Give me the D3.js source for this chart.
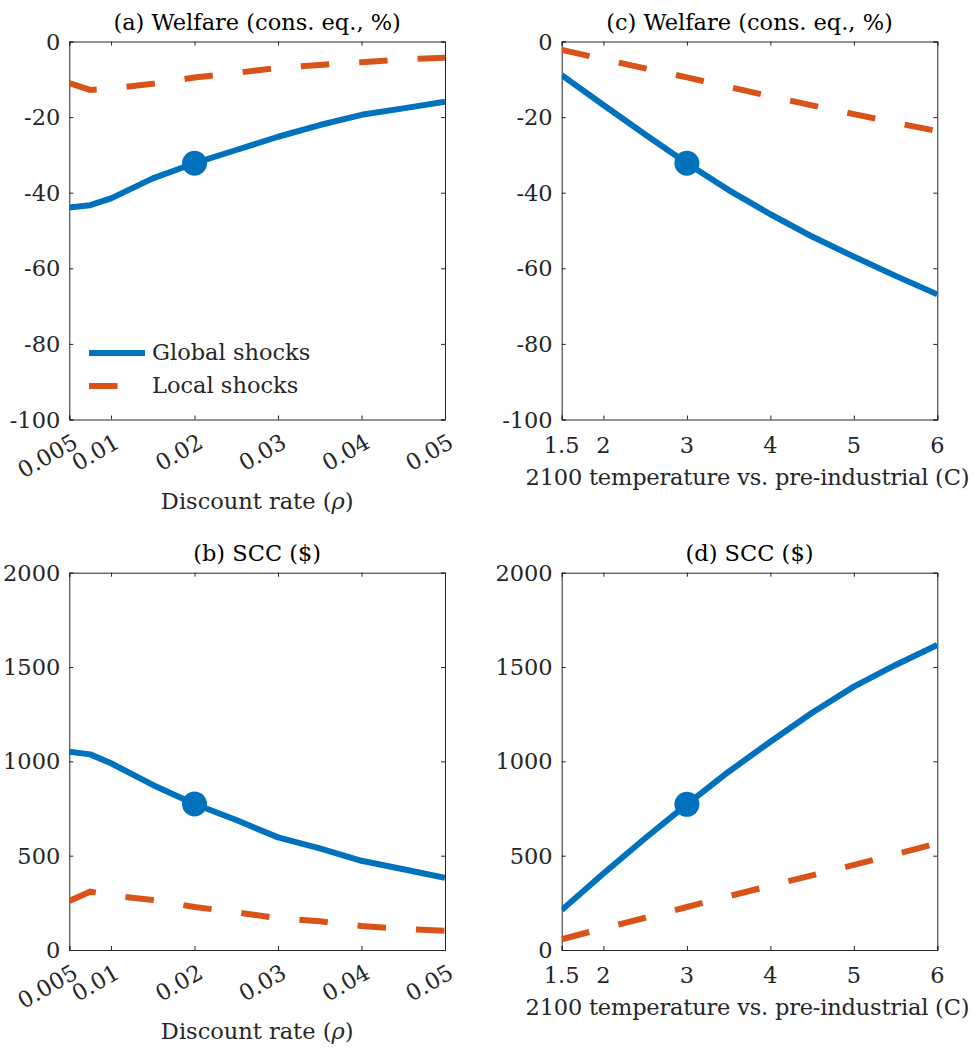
<!DOCTYPE html>
<html>
<head>
<meta charset="utf-8">
<script src="https://cdn.jsdelivr.net/npm/d3@7"></script>
<style>
  html, body { margin: 0; padding: 0; background: #fff; }
  svg { display: block; }
</style>
</head>
<body>
<script>
// ---------------- data ----------------
const rhoGrid = [0.005, 0.0075, 0.01, 0.015, 0.02, 0.025, 0.03, 0.035, 0.04, 0.045, 0.05];
const welfareRhoGlobal = [-43.9, -43.3, -41.5, -36.2, -32.2, -28.7, -25.2, -22.1, -19.4, -17.7, -15.9];
const welfareRhoLocal  = [-11.0, -12.8, -12.4, -11.2, -9.5, -8.3, -7.0, -6.2, -5.5, -4.7, -4.3];
const sccRhoGlobal = [1051, 1037, 990, 875, 774, 689, 597, 539, 473, 428, 383];
const sccRhoLocal  = [260, 309, 290, 265, 228, 200, 168, 152, 127, 111, 102];

const tempGrid = [1.5, 2, 2.5, 3, 3.5, 4, 4.5, 5, 5.5, 6];
const welfareTempGlobal = [-8.9, -16.8, -24.6, -32.2, -39.3, -45.7, -51.6, -56.9, -62.0, -66.9];
const welfareTempLocal  = [-2.2, -4.7, -7.1, -9.5, -12.0, -14.5, -16.9, -19.2, -21.5, -23.7];
const sccTempGlobal = [212, 406, 592, 772, 945, 1104, 1258, 1396, 1511, 1617];
const sccTempLocal  = [57, 115, 171, 228, 285, 341, 396, 451, 508, 566];

const rhoBaseline = 0.02;
const tempBaseline = 3;

const rhoTicks = [0.005, 0.01, 0.02, 0.03, 0.04, 0.05];
const rhoTickLabels = ["0.005", "0.01", "0.02", "0.03", "0.04", "0.05"];
const tempTicks = [1.5, 2, 3, 4, 5, 6];
const tempTickLabels = ["1.5", "2", "3", "4", "5", "6"];
const welfareTicks = [-100, -80, -60, -40, -20, 0];
const sccTicks = [0, 500, 1000, 1500, 2000];

const seriesNames = ["Global shocks", "Local shocks"];
const titles = ["(a) Welfare (cons. eq., %)", "(b) SCC ($)", "(c) Welfare (cons. eq., %)", "(d) SCC ($)"];

// ---------------- layout ----------------
const W = 975, H = 1049;
const BLUE = "#0072BD", ORANGE = "#D95319", AX = "#262626";
const FS = 22.5;
const LW = 6;
const FONT = "'DejaVu Serif', 'Liberation Serif', serif";

const svg = d3.select("body").append("svg").attr("width", W).attr("height", H)
  .attr("font-family", FONT);
svg.append("defs");

function txt(sel) {
  return sel.append("text").attr("font-family", FONT).attr("font-size", FS).attr("fill", AX);
}

const panels = [
  { id: "a", box: [69.3, 445, 41.5, 419.5], x: rhoGrid, g: welfareRhoGlobal, l: welfareRhoLocal,
    xdom: [0.005, 0.05], ydom: [-100, 0], xt: rhoTicks, xtl: rhoTickLabels, yt: welfareTicks,
    mark: rhoBaseline, rot: true, title: titles[0], xlabel: "rho", legend: true },
  { id: "b", box: [69.3, 445, 572.7, 950], x: rhoGrid, g: sccRhoGlobal, l: sccRhoLocal,
    xdom: [0.005, 0.05], ydom: [0, 2000], xt: rhoTicks, xtl: rhoTickLabels, yt: sccTicks,
    mark: rhoBaseline, rot: true, title: titles[1], xlabel: "rho" },
  { id: "c", box: [561.7, 937.3, 41.5, 419.5], x: tempGrid, g: welfareTempGlobal, l: welfareTempLocal,
    xdom: [1.5, 6], ydom: [-100, 0], xt: tempTicks, xtl: tempTickLabels, yt: welfareTicks,
    mark: tempBaseline, rot: false, title: titles[2], xlabel: "temp" },
  { id: "d", box: [561.7, 937.3, 572.7, 950], x: tempGrid, g: sccTempGlobal, l: sccTempLocal,
    xdom: [1.5, 6], ydom: [0, 2000], xt: tempTicks, xtl: tempTickLabels, yt: sccTicks,
    mark: tempBaseline, rot: false, title: titles[3], xlabel: "temp" }
];

panels.forEach(p => {
  const [x0, x1, y0, y1] = p.box;
  const xs = d3.scaleLinear().domain(p.xdom).range([x0, x1]);
  const ys = d3.scaleLinear().domain(p.ydom).range([y1, y0]);
  const g = svg.append("g");

  svg.select("defs").append("clipPath").attr("id", "clip-" + p.id)
    .append("rect").attr("x", x0).attr("y", y0).attr("width", x1 - x0).attr("height", y1 - y0);

  const tl = 4;
  const bottom = d3.axisBottom(xs).tickValues(p.xt).tickSize(-tl).tickFormat("");
  const top = d3.axisTop(xs).tickValues(p.xt).tickSize(-tl).tickFormat("");
  const left = d3.axisLeft(ys).tickValues(p.yt).tickSize(-tl).tickFormat("");
  const right = d3.axisRight(ys).tickValues(p.yt).tickSize(-tl).tickFormat("");
  [[bottom, `translate(0,${y1})`], [top, `translate(0,${y0})`],
   [left, `translate(${x0},0)`], [right, `translate(${x1},0)`]].forEach(([ax, tr]) => {
    const a = g.append("g").attr("transform", tr).call(ax);
    a.select(".domain").attr("stroke", AX).attr("stroke-width", 1);
    a.selectAll(".tick line").attr("stroke", AX).attr("stroke-width", 1);
  });

  // y tick labels
  p.yt.forEach(v => {
    txt(g).attr("x", x0 - 9).attr("y", ys(v)).attr("dy", "0.36em")
      .attr("text-anchor", "end").text(String(v));
  });

  // x tick labels
  p.xt.forEach((v, i) => {
    if (p.rot) {
      txt(g).attr("transform", `translate(${xs(v) + 10},${y1 + 27}) rotate(-30)`)
        .attr("text-anchor", "end").text(p.xtl[i]);
    } else {
      txt(g).attr("x", xs(v)).attr("y", y1 + 33)
        .attr("text-anchor", "middle").text(p.xtl[i]);
    }
  });

  // x label
  const cx = (x0 + x1) / 2;
  if (p.xlabel === "rho") {
    const t = txt(g).attr("x", cx).attr("y", y1 + 89).attr("text-anchor", "middle");
    t.append("tspan").text("Discount rate (");
    t.append("tspan").attr("font-style", "italic").text("ρ");
    t.append("tspan").text(")");
  } else {
    txt(g).attr("x", cx - 2).attr("y", y1 + 65).attr("text-anchor", "middle")
      .attr("textLength", 444).attr("lengthAdjust", "spacing")
      .text("2100 temperature vs. pre-industrial (C)");
  }

  // title
  txt(g).attr("x", cx).attr("y", y0 - 12).attr("text-anchor", "middle")
    .attr("fill", "#000").text(p.title);

  // lines
  const line = d3.line().x(d => xs(d[0])).y(d => ys(d[1]));
  const plot = g.append("g").attr("clip-path", `url(#clip-${p.id})`);
  plot.append("path").datum(p.x.map((v, i) => [v, p.l[i]]))
    .attr("d", line).attr("fill", "none").attr("stroke", ORANGE)
    .attr("stroke-width", LW).attr("stroke-dasharray", "28.5,30");
  plot.append("path").datum(p.x.map((v, i) => [v, p.g[i]]))
    .attr("d", line).attr("fill", "none").attr("stroke", BLUE)
    .attr("stroke-width", LW).attr("stroke-linejoin", "round");
  const mi = p.x.indexOf(p.mark);
  plot.append("circle").attr("cx", xs(p.mark)).attr("cy", ys(p.g[mi]))
    .attr("r", 12.5).attr("fill", BLUE);

  // legend
  if (p.legend) {
    const lx = 89, items = [{ c: BLUE, y: 353, dash: null }, { c: ORANGE, y: 386, dash: "28.5,30" }];
    items.forEach((it, i) => {
      const ln = g.append("line").attr("x1", lx).attr("x2", lx + 56)
        .attr("y1", it.y).attr("y2", it.y).attr("stroke", it.c).attr("stroke-width", LW);
      if (it.dash) ln.attr("stroke-dasharray", it.dash);
      txt(g).attr("x", 152).attr("y", it.y + 7).text(seriesNames[i]);
    });
  }
});
</script>
</body>
</html>
